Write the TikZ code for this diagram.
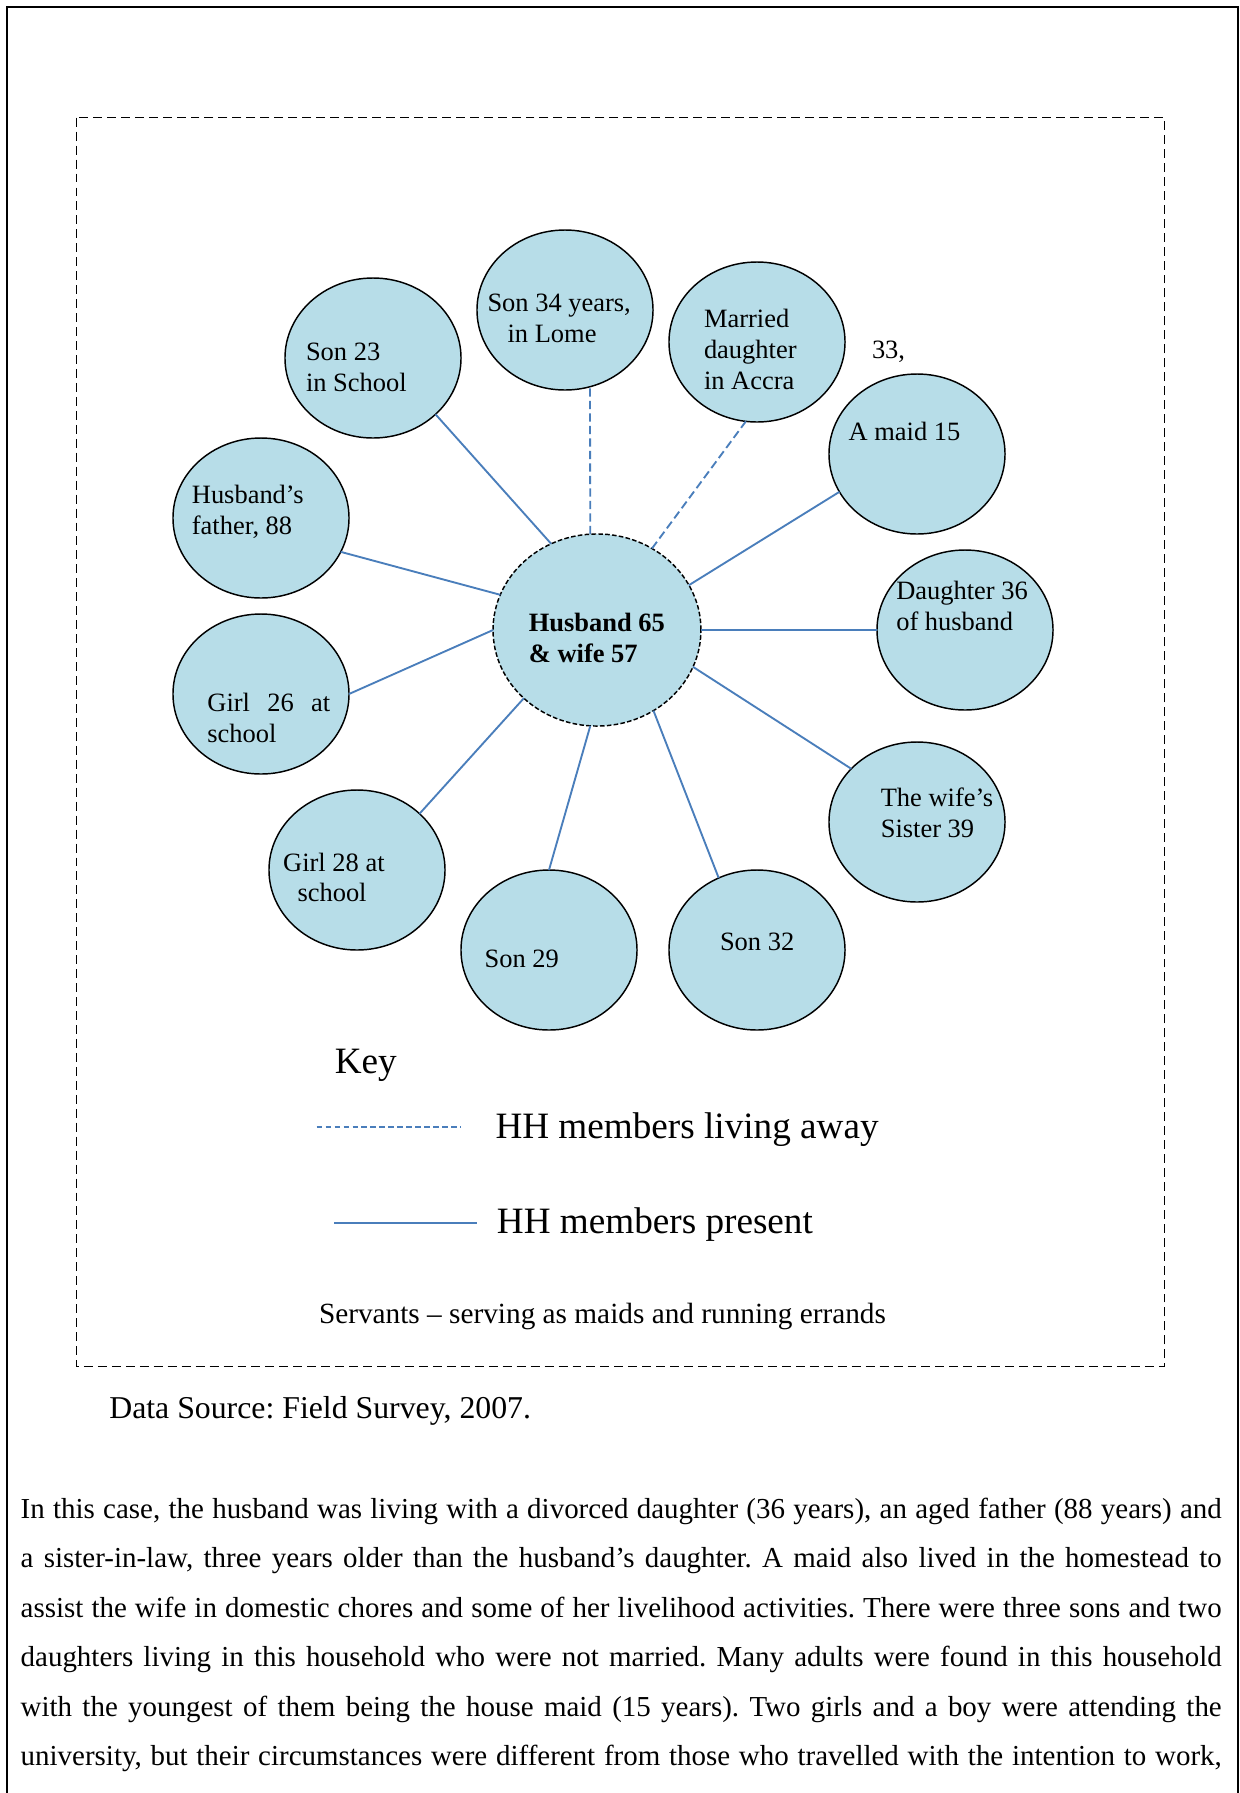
\documentclass[tikz,border=0pt]{standalone}
\usepackage{fontspec}
\setmainfont{Liberation Serif}
\usetikzlibrary{shapes.geometric}

\definecolor{bubble}{HTML}{B7DDE8}
\definecolor{link}{HTML}{4A7EBB}

\newcommand\bubblefont{\fontsize{12.7}{14.9}\selectfont}
\newcommand\bodyfont{\fontsize{13.9}{16}\selectfont}
\newcommand\keyfont{\fontsize{17.85}{21}\selectfont}
\newcommand\notefont{\fontsize{14.06}{17}\selectfont}
\newcommand\srcfont{\fontsize{15.26}{18}\selectfont}
\frenchspacing

\begin{document}
\begin{tikzpicture}[x=0.48pt,y=-0.48pt,
  member/.style={ellipse,draw=black,line width=0.7pt,fill=bubble,
    minimum width=84.5pt,minimum height=76.8pt,inner sep=0pt,outer sep=0pt},
  core/.style={member,dash pattern=on 2.2pt off 1.1pt,
    minimum width=99.8pt,minimum height=92.2pt},
  present/.style={draw=link,line width=0.9pt},
  away/.style={present,dash pattern=on 4pt off 2pt},
  lbl/.style={anchor=base west,inner sep=0pt,outer sep=0pt,font=\bubblefont},
  plain/.style={anchor=base west,inner sep=0pt,outer sep=0pt}]

\useasboundingbox (0,0) rectangle (1240,1793);

% page frame, open at the bottom
\draw[line width=1pt] (7,1793) -- (7,6.7) -- (1237.7,6.7) -- (1237.7,1793);

% dashed frame around the figure
\draw[line width=0.6pt,dash pattern=on 4.3pt off 2.4pt] (76.7,117.7) rectangle (1164.3,1366.7);

% household members
\node[core]   (hh)       at (597,630) {};
\node[member] (son23)    at (373,358) {};
\node[member] (son34)    at (565,310) {};
\node[member] (married)  at (757,342) {};
\node[member] (maid)     at (917,454) {};
\node[member] (father)   at (261,518) {};
\node[member] (daughter) at (965,630) {};
\node[member] (girl26)   at (261,694) {};
\node[member] (sister)   at (917,822) {};
\node[member] (girl28)   at (357,870) {};
\node[member] (son29)    at (549,950) {};
\node[member] (son32)    at (757,950) {};

% ties to the couple
\draw[present] (hh.118.5)  -- (son23.-42.5);
\draw[away]    (hh.94.8)   -- (son34.-72.7);
\draw[away]    (hh.56.7)   -- (married.-98.7);
\draw[present] (hh.26.4)   -- (maid.-154.6);
\draw[present] (hh.160.7)  -- (father.-23.1);
\draw[present] (hh.180)    -- (girl26.0);
\draw[present] (hh.0)      -- (daughter.180);
\draw[present] (hh.-21.4)  -- (sister.141.5);
\draw[present] (hh.-137.5) -- (girl28.42.1);
\draw[present] (hh.-94.7)  -- (son29.90);
\draw[present] (hh.-55.4)  -- (son32.118.8);

% labels
\node[lbl] (t-son23a) at (306,360) {Son 23};
\node[lbl] (t-son23b) at (306,391) {in School};
\node[lbl] (t-son34a) at (487.5,311.7) {Son 34 years,};
\node[lbl] (t-son34b) at (507.6,342.7) {in Lome};
\node[lbl] (t-marra)  at (704,327.3) {Married};
\node[lbl] (t-marrb)  at (704,358.3) {daughter};
\node[lbl] (t-marrc)  at (704,389.3) {in Accra};
\node[lbl] (t-marrd)  at (872,358.3) {33,};
\node[lbl] (t-maid)   at (848.6,440) {A maid 15};
\node[lbl] (t-fata)   at (191.9,503.3) {Husband’s};
\node[lbl] (t-fatb)   at (191.9,534.3) {father, 88};
\node[lbl,font=\bubblefont\bfseries] (t-hha) at (528.9,631.7) {Husband 65};
\node[lbl,font=\bubblefont\bfseries] (t-hhb) at (528.9,662.7) {\& wife 57};
\node[lbl] (t-dau-a)  at (896.3,599.3) {Daughter 36};
\node[lbl] (t-dau-b)  at (896.3,630) {of husband};
\node[lbl] (t-g26a)   at (207.4,711.7) {\makebox[59pt][s]{Girl 26 at}};
\node[lbl] (t-g26b)   at (207.4,742.3) {school};
\node[lbl] (t-g28a)   at (283.2,871.7) {Girl 28 at};
\node[lbl] (t-g28b)   at (297.5,901.7) {school};
\node[lbl] (t-son29)  at (484.7,967.7) {Son 29};
\node[lbl] (t-son32)  at (720,950.7) {Son 32};
\node[lbl] (t-sisa)   at (880.8,806.7) {The wife’s};
\node[lbl] (t-sisb)   at (880.8,837.7) {Sister 39};

% key
\node[plain,font=\keyfont] (key) at (334.8,1073) {Key};
\coordinate (awayA) at (316.7,1126.7);
\coordinate (awayB) at (461,1126.7);
\draw[present,dash pattern=on 2.7pt off 1.6pt] (awayA) -- (awayB);
\node[plain,font=\keyfont] (key-away) at (495.5,1138.3) {HH members living away};
\coordinate (presA) at (334,1222.7);
\coordinate (presB) at (476.7,1222.7);
\draw[present] (presA) -- (presB);
\node[plain,font=\keyfont] (key-pres) at (496.9,1233) {HH members present};
\node[plain,font=\notefont] (servants) at (319,1323.3) {Servants – serving as maids and running errands};

% source and commentary
\node[plain,font=\srcfont] (source) at (109.3,1418.3) {Data Source: Field Survey, 2007.};

\node[plain,font=\bodyfont] (p1) at (20.7,1518) {\makebox[576.5pt][s]{In this case, the husband was living with a divorced daughter (36 years), an aged father (88 years) and}};
\node[plain,font=\bodyfont] (p2) at (20.7,1567.5) {\makebox[576.5pt][s]{a sister-in-law, three years older than the husband’s daughter. A maid also lived in the homestead to}};
\node[plain,font=\bodyfont] (p3) at (20.7,1617) {\makebox[576.5pt][s]{assist the wife in domestic chores and some of her livelihood activities. There were three sons and two}};
\node[plain,font=\bodyfont] (p4) at (20.7,1666.5) {\makebox[576.5pt][s]{daughters living in this household who were not married. Many adults were found in this household}};
\node[plain,font=\bodyfont] (p5) at (20.7,1716) {\makebox[576.5pt][s]{with the youngest of them being the house maid (15 years). Two girls and a boy were attending the}};
\node[plain,font=\bodyfont] (p6) at (20.7,1765.5) {\makebox[576.5pt][s]{university, but their circumstances were different from those who travelled with the intention to work,}};

\end{tikzpicture}
\end{document}
